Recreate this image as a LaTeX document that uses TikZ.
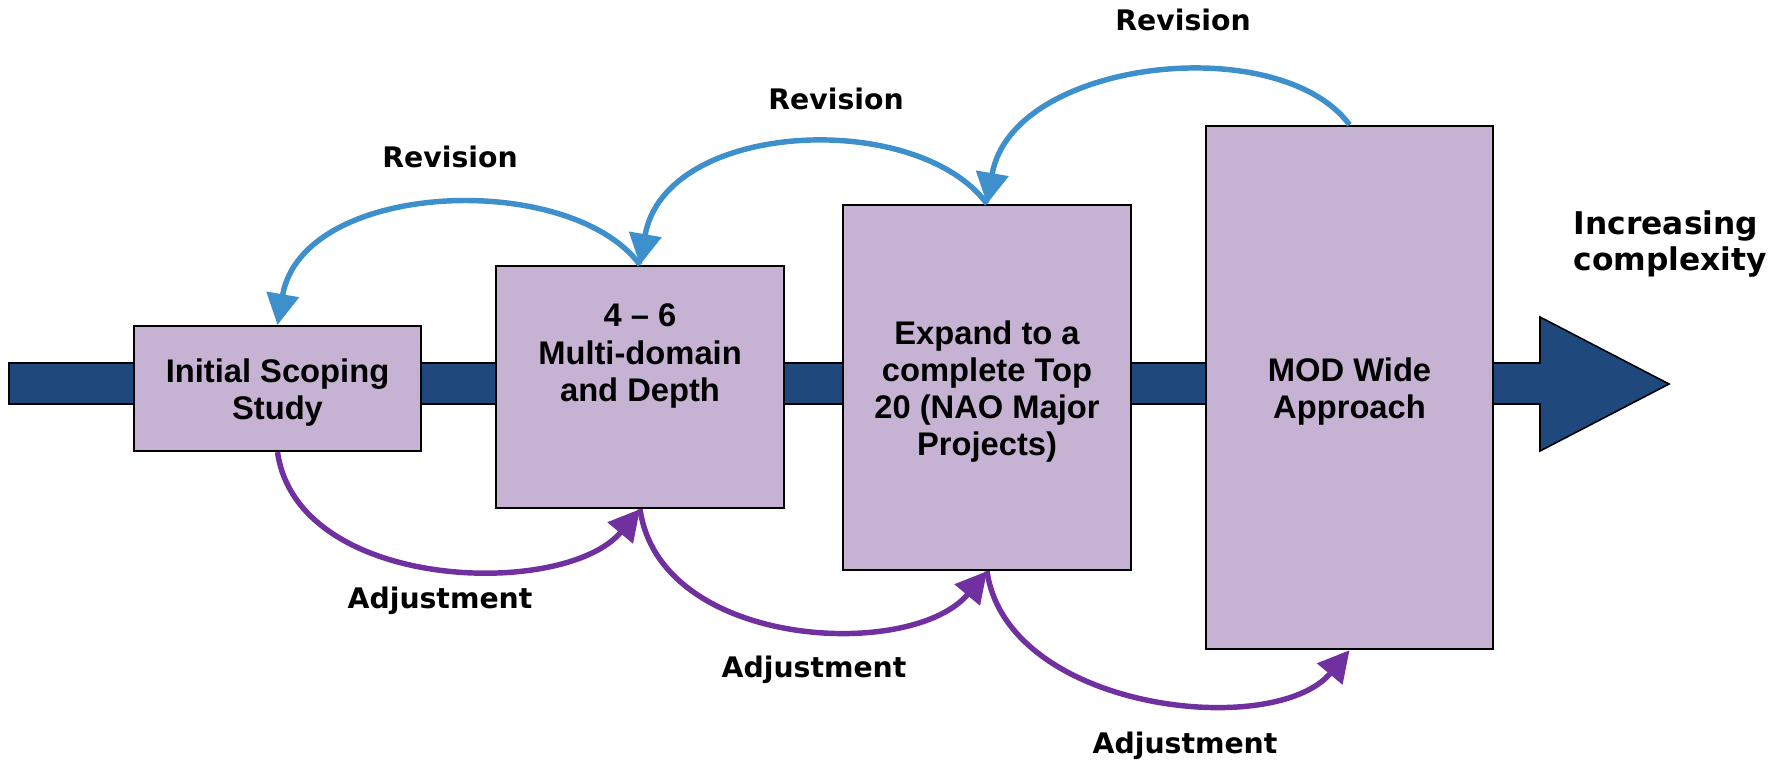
\documentclass[tikz,border=0pt]{standalone}
\usepackage{fontspec}
\setmainfont{Liberation Sans}
\newfontfamily\lblfont{DejaVu Sans}
\usetikzlibrary{arrows.meta}

\definecolor{barblue}{HTML}{1F497D}
\definecolor{stagefill}{HTML}{C6B2D2}
\definecolor{revblue}{HTML}{3E90CD}
\definecolor{adjpurple}{HTML}{7030A0}

\tikzset{
  stage/.style={draw=black, line width=0.6pt, fill=stagefill, minimum width=2.87cm, inner sep=0pt},
  stagetext/.style={inner sep=0pt, align=center, font=\fontsize{9.3}{10.6}\selectfont\bfseries},
  feedback/.style={line width=1.55pt, -{Triangle[length=3.1mm,width=3.2mm]}},
  rev/.style={feedback, color=revblue},
  adj/.style={feedback, color=adjpurple},
  arclabel/.style={inner sep=0pt, font=\lblfont\fontsize{8.05}{9.5}\selectfont\bfseries},
}

\begin{document}
\begin{tikzpicture}[x=0.01cm, y=-0.01cm]
\useasboundingbox (0,0) rectangle (1783,763);

% main progression arrow
\draw[fill=barblue, line width=0.45pt]
  (9,363) -- (1540,363) -- (1540,317) -- (1669,384) -- (1540,451) -- (1540,404) -- (9,404) -- cycle;

% stages
\node[stage, minimum height=1.25cm] (b1) at (277.5,388.5) {};
\node[stage, minimum height=2.42cm] (b2) at (640,387) {};
\node[stage, minimum height=3.65cm] (b3) at (987,387.5) {};
\node[stage, minimum height=5.23cm] (b4) at (1349.5,387.5) {};

\node[stagetext] (b1txt) at ([yshift=-0.04cm]b1.center) {Initial Scoping\\Study};
\node[stagetext] (b2txt) at ([yshift=0.31cm]b2.center) {4 -- 6\\Multi-domain\\and Depth};
\node[stagetext] (b3txt) at ([yshift=-0.04cm]b3.center) {Expand to a\\complete Top\\20 (NAO Major\\Projects)};
\node[stagetext] (b4txt) at ([yshift=-0.04cm]b4.center) {MOD Wide\\Approach};

% revision loops (back to the previous stage)
\draw[rev] (b2.north) .. controls +(-70,-95) and +(25,-145) .. (b1.north);
\draw[rev] (b3.north) .. controls +(-70,-95) and +(25,-145) .. (b2.north);
\draw[rev] (b4.north) .. controls +(-70,-95) and +(25,-145) .. (b3.north);

% adjustment loops (forward to the next stage)
\draw[adj] (b1.south) .. controls +(20,140) and +(-75,90) .. (b2.south);
\draw[adj] (b2.south) .. controls +(20,140) and +(-75,90) .. (b3.south);
\draw[adj] (b3.south) .. controls +(20,140) and +(-75,90) .. (b4.south);

% loop labels
\node[arclabel] (r1) at (450,157) {Revision};
\node[arclabel] (r2) at (836,99) {Revision};
\node[arclabel] (r3) at (1183,20) {Revision};
\node[arclabel] (a1) at (440,601) {Adjustment};
\node[arclabel] (a2) at (814,670) {Adjustment};
\node[arclabel] (a3) at (1185,746) {Adjustment};

\node[arclabel, font=\lblfont\fontsize{8.9}{10.5}\selectfont\bfseries, align=left, anchor=west]
  (inc) at (1573,244) {Increasing\\complexity};
\end{tikzpicture}
\end{document}
